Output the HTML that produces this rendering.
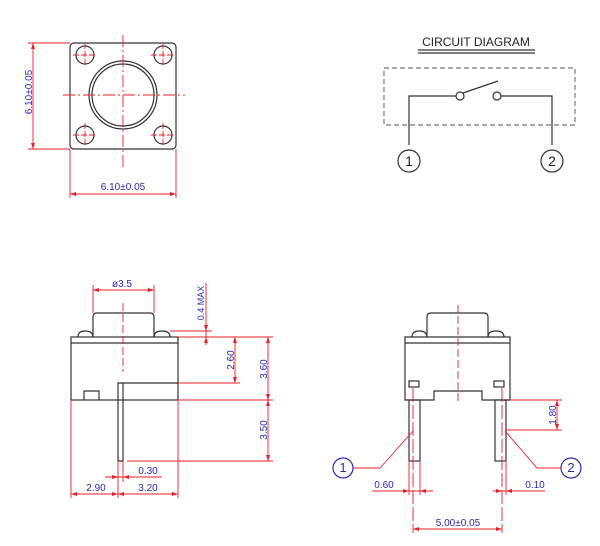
<!DOCTYPE html>
<html><head><meta charset="utf-8"><style>
html,body{margin:0;padding:0;background:#fff}
svg{display:block}
text{font-family:"Liberation Sans",sans-serif}
.b{fill:#2a2ab8;font-size:10px}
.k{fill:#222;font-size:11px}
</style></head><body>
<svg width="600" height="546" viewBox="0 0 600 546" xmlns="http://www.w3.org/2000/svg">
<g fill="none" stroke="#333" stroke-width="1.2">
<!-- top view -->
<rect x="70" y="43" width="106" height="106" rx="4"/>
<circle cx="85" cy="55" r="9"/><circle cx="163" cy="55" r="9"/>
<circle cx="85" cy="135" r="9"/><circle cx="163" cy="135" r="9"/>
<circle cx="123" cy="95" r="34"/><circle cx="123" cy="95" r="31"/>
<!-- circuit -->
<rect x="384" y="68" width="191" height="57" stroke="#777" stroke-dasharray="5,3"/>
<polyline points="409,145 409,96 456,96"/>
<circle cx="460" cy="96" r="4"/>
<circle cx="497" cy="96" r="4"/>
<polyline points="501,96 552,96 552,145"/>
<line x1="463" y1="93" x2="498" y2="81"/>
<circle cx="409" cy="161" r="11"/><circle cx="552" cy="161" r="11"/>
<line x1="418" y1="50" x2="535" y2="50"/><line x1="418" y1="53" x2="535" y2="53"/>
<!-- left side view -->
<rect x="71" y="337" width="107" height="63"/>
<line x1="71" y1="343" x2="178" y2="343"/>
<path d="M93,337 V317 Q93,313 97,313 H150 Q154,313 154,317 V337"/>
<path d="M78,337 Q78,331 85,331 Q93,331 93,337"/>
<path d="M154,337 Q154,331 162,331 Q170,331 170,337"/>
<polyline points="84,400 84,391 99,391 99,400"/>
<polyline points="178,383 118,383 118,461 123,461 123,383"/>
<!-- right side view -->
<path d="M405,400 V337 H510 V400 H482 V391 H434 V400 Z"/>
<line x1="405" y1="343" x2="510" y2="343"/>
<path d="M427,337 V317 Q427,313 431,313 H484 Q488,313 488,317 V337"/>
<path d="M412,337 Q412,331 419,331 Q427,331 427,337"/>
<path d="M488,337 Q488,331 496,331 Q504,331 504,337"/>
<rect x="409" y="381" width="10" height="6"/><rect x="494" y="381" width="10" height="6"/>
<rect x="409" y="400" width="11" height="61"/><rect x="495" y="400" width="11" height="61"/>
<circle cx="343" cy="468" r="10" stroke="#2a2ab8"/><circle cx="571" cy="468" r="10" stroke="#2a2ab8"/>
</g>
<g fill="none" stroke="#e8202a" stroke-width="0.9">
<!-- top view centerlines -->
<line x1="123" y1="35" x2="123" y2="168" stroke-dasharray="12,3,2,3"/>
<line x1="63" y1="95" x2="185" y2="95" stroke-dasharray="12,3,2,3"/>
<line x1="85" y1="43" x2="85" y2="67" stroke-dasharray="6,2"/><line x1="73" y1="55" x2="97" y2="55" stroke-dasharray="6,2"/>
<line x1="163" y1="43" x2="163" y2="67" stroke-dasharray="6,2"/><line x1="151" y1="55" x2="175" y2="55" stroke-dasharray="6,2"/>
<line x1="85" y1="123" x2="85" y2="147" stroke-dasharray="6,2"/><line x1="73" y1="135" x2="97" y2="135" stroke-dasharray="6,2"/>
<line x1="163" y1="123" x2="163" y2="147" stroke-dasharray="6,2"/><line x1="151" y1="135" x2="175" y2="135" stroke-dasharray="6,2"/>
<line x1="28" y1="43" x2="70" y2="43"/><line x1="28" y1="149" x2="70" y2="149"/>
<line x1="33" y1="43" x2="33" y2="149"/>
<line x1="70" y1="149" x2="70" y2="198"/><line x1="176" y1="149" x2="176" y2="198"/>
<line x1="70" y1="194" x2="176" y2="194"/>
<!-- left side dims -->
<line x1="123" y1="303" x2="123" y2="372" stroke-dasharray="8,3"/>
<line x1="93" y1="285" x2="93" y2="313"/><line x1="154" y1="285" x2="154" y2="313"/>
<line x1="93" y1="290" x2="154" y2="290"/>
<line x1="206" y1="283" x2="206" y2="345"/>
<line x1="170" y1="331" x2="212" y2="331"/>
<line x1="178" y1="337" x2="273" y2="337"/>
<line x1="178" y1="383" x2="240" y2="383"/>
<line x1="178" y1="400" x2="273" y2="400"/>
<line x1="127" y1="461" x2="273" y2="461"/>
<line x1="235" y1="337" x2="235" y2="383"/>
<line x1="268" y1="337" x2="268" y2="461"/>
<line x1="71" y1="400" x2="71" y2="498"/><line x1="178" y1="400" x2="178" y2="498"/>
<line x1="118" y1="461" x2="118" y2="498"/><line x1="123" y1="461" x2="123" y2="482"/>
<line x1="105" y1="477" x2="162" y2="477"/>
<line x1="71" y1="494" x2="178" y2="494"/>
<!-- right side dims -->
<line x1="458" y1="305" x2="458" y2="402" stroke-dasharray="8,3"/>
<line x1="413" y1="388" x2="413" y2="533" stroke-dasharray="14,3"/>
<line x1="502" y1="388" x2="502" y2="533" stroke-dasharray="14,3"/>
<line x1="409" y1="461" x2="409" y2="495"/><line x1="420" y1="461" x2="420" y2="495"/>
<line x1="506" y1="461" x2="506" y2="495"/>
<line x1="413" y1="529" x2="502" y2="529"/>
<line x1="510" y1="400" x2="562" y2="400"/><line x1="506" y1="430" x2="562" y2="430"/>
<line x1="557" y1="400" x2="557" y2="430"/>
<line x1="372" y1="491" x2="433" y2="491"/>
<line x1="493" y1="491" x2="545" y2="491"/>
<polyline points="353,468 380,468 413,431"/>
<polyline points="561,468 537,468 505,431"/>
</g>
<g fill="#e8202a">
<path d="M33,43 l-2,6 h4z M33,149 l-2,-6 h4z"/>
<path d="M70,194 l6,-2 v4z M176,194 l-6,-2 v4z"/>
<path d="M93,290 l6,-2 v4z M154,290 l-6,-2 v4z"/>
<path d="M206,331 l-2,-6 h4z M206,337 l-2,6 h4z"/>
<path d="M235,337 l-2,6 h4z M235,383 l-2,-6 h4z"/>
<path d="M268,337 l-2,6 h4z M268,400 l-2,-6 h4z M268,400 l-2,6 h4z M268,461 l-2,-6 h4z"/>
<path d="M118,477 l-6,-2 v4z M123,477 l6,-2 v4z"/>
<path d="M71,494 l6,-2 v4z M118,494 l-6,-2 v4z M118,494 l6,-2 v4z M178,494 l-6,-2 v4z"/>
<path d="M413,529 l6,-2 v4z M502,529 l-6,-2 v4z"/>
<path d="M557,400 l-2,6 h4z M557,430 l-2,-6 h4z"/>
<path d="M409,491 l-6,-2 v4z M420,491 l6,-2 v4z M502,491 l-6,-2 v4z M506,491 l6,-2 v4z"/>
</g>
<g class="b">
<text x="33" y="97" text-anchor="middle" transform="rotate(-90 30 95)">6.10±0.05</text>
<text x="123" y="190" text-anchor="middle">6.10±0.05</text>
<text x="122" y="287" text-anchor="middle">ø3.5</text>
<text x="204" y="303" text-anchor="middle" font-size="9" transform="rotate(-90 204 303)">0.4 MAX</text>
<text x="231" y="363" text-anchor="middle" transform="rotate(-90 231 360)">2.60</text>
<text x="264" y="372" text-anchor="middle" transform="rotate(-90 264 369)">3.60</text>
<text x="264" y="433" text-anchor="middle" transform="rotate(-90 264 430)">3.50</text>
<text x="148" y="474" text-anchor="middle">0.30</text>
<text x="96" y="491" text-anchor="middle">2.90</text>
<text x="148" y="491" text-anchor="middle">3.20</text>
<text x="553" y="418" text-anchor="middle" transform="rotate(-90 553 415)">1.80</text>
<text x="384" y="488" text-anchor="middle">0.60</text>
<text x="535" y="488" text-anchor="middle">0.10</text>
<text x="458" y="526" text-anchor="middle">5.00±0.05</text>
<text x="343" y="472" text-anchor="middle" font-size="13">1</text>
<text x="571" y="472" text-anchor="middle" font-size="13">2</text>
</g>
<g class="k">
<text x="476" y="46" text-anchor="middle" font-size="12">CIRCUIT DIAGRAM</text>
<text x="409" y="166" text-anchor="middle" font-size="14">1</text>
<text x="552" y="166" text-anchor="middle" font-size="14">2</text>
</g>
</svg>
</body></html>
